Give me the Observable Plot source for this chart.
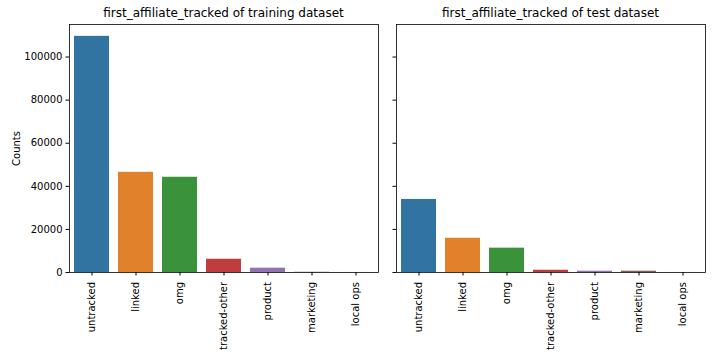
<!DOCTYPE html>
<html>
<head>
<meta charset="utf-8">
<script src="https://cdn.jsdelivr.net/npm/d3@7"></script>
<script src="https://cdn.jsdelivr.net/npm/@observablehq/plot@0.6"></script>
<style>
  body { margin: 0; background: #fff; font-family: "DejaVu Sans", sans-serif; }
  #wrap { position: relative; width: 727px; height: 362px; overflow: hidden; }
  .panel { position: absolute; top: 0; z-index: 1; }
  .title { position: absolute; top: 6px; font-size: 12px; color: #000; text-align: center; white-space: nowrap; z-index: 2; line-height: 14px; }
</style>
</head>
<body>
<div id="wrap">
  <div class="panel" id="p1" style="left:0px;"></div>
  <div class="panel" id="p2" style="left:380px;"></div>
  <div class="title" id="t1" style="left:69px;width:309px;"></div>
  <div class="title" id="t2" style="left:396px;width:309px;"></div>
</div>
<script>
const categories = ["untracked", "linked", "omg", "tracked-other", "product", "marketing", "local ops"];
const trainCounts = [109600, 46500, 44200, 6150, 2000, 100, 20];
const testCounts = [33900, 15900, 11300, 1050, 600, 600, 20];
const colors = ["#3274a1", "#e1812c", "#3a923a", "#c03d3e", "#9372b2", "#845b53", "#d684bd"];
const titles = ["first_affiliate_tracked of training dataset", "first_affiliate_tracked of test dataset"];
const yTicks = [0, 20000, 40000, 60000, 80000, 100000];
const yMax = 115100;

document.getElementById("t1").textContent = titles[0];
document.getElementById("t2").textContent = titles[1];

function makePlot(counts, opts) {
  const data = categories.map((c, i) => ({cat: c, n: counts[i]}));
  return Plot.plot({
    width: opts.width,
    height: 362,
    marginLeft: opts.marginLeft,
    marginRight: opts.marginRight,
    marginTop: 24,
    marginBottom: 90,
    style: {fontFamily: "DejaVu Sans, sans-serif", fontSize: "10px", color: "#000", background: "transparent"},
    x: {domain: categories, paddingInner: 0.2, paddingOuter: 0.1},
    y: {domain: [0, yMax]},
    color: {domain: categories, range: colors},
    marks: [
      Plot.barY(data, {x: "cat", y: "n", fill: "cat"}),
      Plot.axisX({tickRotate: -90, tickSize: 3.5, tickPadding: 6, label: null, stroke: "#000", fill: "#000", strokeOpacity: 1}),
      Plot.axisY({ticks: yTicks, tickSize: 3.5, tickPadding: 3.5,
        tickFormat: opts.showLabels ? d3.format("d") : () => "",
        label: opts.showLabels ? "Counts" : null, labelAnchor: "center", labelOffset: 57, labelArrow: "none",
        stroke: "#000", fill: "#000", strokeOpacity: 1}),
      Plot.frame({stroke: "#000", strokeWidth: 0.8})
    ]
  });
}

document.getElementById("p1").append(makePlot(trainCounts, {width: 385, marginLeft: 69, marginRight: 7, showLabels: true}));
document.getElementById("p2").append(makePlot(testCounts, {width: 347, marginLeft: 16, marginRight: 22, showLabels: false}));
</script>
</body>
</html>
